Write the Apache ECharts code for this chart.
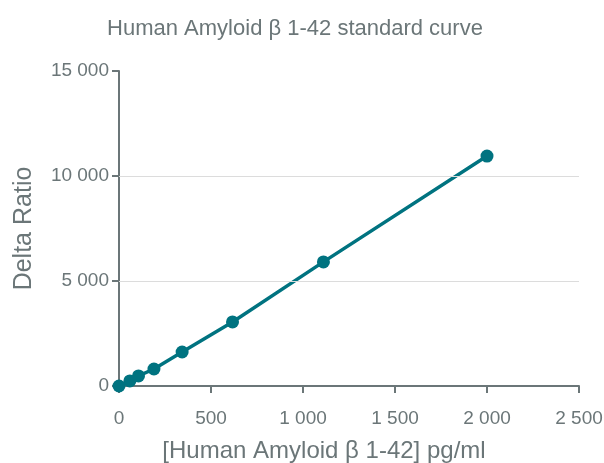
<!DOCTYPE html>
<html>
<head>
<meta charset="utf-8">
<script src="https://cdn.jsdelivr.net/npm/echarts@6/dist/echarts.min.js"></script>
<style>
  html, body { margin: 0; padding: 0; background: #fff; }
  #chart { width: 604px; height: 463px; }
</style>
</head>
<body>
<div id="chart"></div>
<script>
// standard curve concentrations (pg/ml) and delta ratio
const conc = [0, 59, 106, 190, 343, 617, 1111, 2000]
const deltaRatio = [0, 240, 480, 810, 1620, 3050, 5910, 10950]
const gridValues = [5000, 10000]

const axisColor = '#6b7678'
const textColor = '#6b7678'
const lineColor = '#007380'

// thousands with a space: 15 000
function fmt(v) {
  return String(v).replace(/\B(?=(\d{3})+(?!\d))/g, ' ')
}

const chart = echarts.init(document.getElementById('chart'))
const option = {
  backgroundColor: '#fff',
  animation: false,
  title: {
    text: 'Human Amyloid β 1-42 standard curve',
    left: 290,
    textAlign: 'center',
    top: 13,
    textStyle: { color: textColor, fontSize: 22, fontWeight: 'normal', fontFamily: 'Liberation Sans' }
  },
  grid: { left: 119, right: 25, top: 71, bottom: 77, outerBoundsMode: 'none', containLabel: false },
  xAxis: {
    type: 'value',
    min: 0, max: 2500, interval: 500,
    name: '[Human Amyloid β 1-42] pg/ml',
    nameLocation: 'middle',
    nameGap: 53,
    nameTextStyle: { color: textColor, fontSize: 24, fontFamily: 'Liberation Sans', padding: [0, 50, 0, 0] },
    axisLine: { show: true, lineStyle: { color: axisColor, width: 2 } },
    axisTick: { show: true, length: 7, lineStyle: { color: axisColor, width: 2 } },
    axisLabel: { color: textColor, fontSize: 19, margin: 23, fontFamily: 'Liberation Sans', formatter: fmt },
    splitLine: { show: false }
  },
  yAxis: {
    type: 'value',
    min: 0, max: 15000, interval: 5000,
    name: 'Delta Ratio',
    nameLocation: 'middle',
    nameGap: 82,
    nameTextStyle: { color: textColor, fontSize: 25, fontFamily: 'Liberation Sans' },
    axisLine: { show: true, lineStyle: { color: axisColor, width: 2 } },
    axisTick: { show: true, length: 7, lineStyle: { color: axisColor, width: 2 } },
    axisLabel: { color: textColor, fontSize: 19, margin: 10, fontFamily: 'Liberation Sans', formatter: fmt },
    splitLine: { show: false }
  },
  series: [{
    type: 'line',
    data: conc.map((c, i) => [c, deltaRatio[i]]),
    symbol: 'circle',
    symbolSize: 13,
    lineStyle: { color: lineColor, width: 3.5 },
    itemStyle: { color: lineColor },
    z: 3,
    markLine: {
      silent: true,
      symbol: 'none',
      label: { show: false },
      lineStyle: { color: '#dcdcdc', width: 1, type: 'solid' },
      data: gridValues.map(v => ({ yAxis: v }))
    }
  }]
}
chart.setOption(option)
</script>
</body>
</html>
